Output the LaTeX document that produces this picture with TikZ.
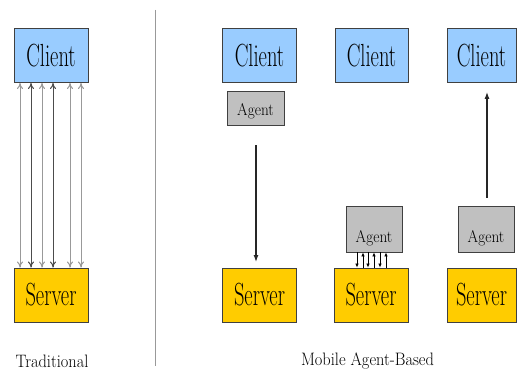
\documentclass[tikz,border=0pt]{standalone}
\usepackage{fontspec}
\usetikzlibrary{arrows.meta}
\definecolor{clientblue}{HTML}{99CCFF}
\definecolor{servergold}{HTML}{FFCC00}
\definecolor{agentgray}{HTML}{C0C0C0}
\definecolor{edgegray}{HTML}{404040}
\definecolor{linegray}{HTML}{999999}
\newcommand{\cnd}[1]{\scalebox{0.64}[1]{#1}}
\newcommand{\agt}[1]{\scalebox{0.9}[1]{#1}}
\newcommand{\lbl}[1]{\scalebox{0.91}[1]{#1}}
\tikzset{
  box/.style={draw=edgegray, line width=0.9pt, inner sep=0pt, minimum height=54pt, font=\rmfamily\fontsize{32}{32}\selectfont},
  clientbox/.style={box, fill=clientblue},
  serverbox/.style={box, fill=servergold},
  agentbox/.style={draw=edgegray, line width=0.9pt, fill=agentgray, inner sep=0pt, font=\rmfamily\fontsize{17}{17}\selectfont},
  trad/.style={{To[length=6pt,width=6pt]}-{To[length=6pt,width=6pt]}, line width=1pt, draw=linegray},
  tradd/.style={trad, draw=black!70},
  move/.style={-{Latex[length=7pt,width=5pt]}, line width=1.2pt, draw=black!85},
  small/.style={-{Latex[length=4pt,width=3.5pt]}, line width=0.7pt, draw=black},
  caption/.style={font=\rmfamily\fontsize{18}{18}\selectfont, inner sep=0pt}
}
\begin{document}
\begin{tikzpicture}[x=1pt,y=-1pt]
\useasboundingbox (0,0) rectangle (518,374);
% Traditional
\node[clientbox, minimum width=74pt] (c1) at (51,55.5) {\cnd{Client}};
\node[serverbox, minimum width=74pt] (s1) at (51,295) {\cnd{Server}};
\foreach \xx/\st in {20/trad,31/tradd,42/trad,53/tradd,70/trad,81/trad}{
  \draw[\st] (c1.south -| \xx,0) -- (s1.north -| \xx,0);
}
% divider
\coordinate (dtop) at (155,10);
\coordinate (dbot) at (155,366);
\draw[linegray, line width=1pt] (dtop) -- (dbot);
% Column 2
\node[clientbox, minimum width=74pt] (c2) at (259.5,55.5) {\cnd{Client}};
\node[agentbox, minimum width=57pt, minimum height=34pt] (a2) at (255.5,108) {\raisebox{-3pt}[\height][\depth]{\agt{Agent}}};
\node[serverbox, minimum width=74pt] (s2) at (259.5,295) {\cnd{Server}};
\coordinate (m2a) at (256,145);
\coordinate (m2b) at (256,262);
\draw[move] (m2a) -- (m2b);
% Column 3
\node[clientbox, minimum width=73pt] (c3) at (371.5,55.5) {\cnd{Client}};
\node[agentbox, minimum width=56pt, minimum height=46pt] (a3) at (374,229) {\raisebox{-9pt}[\height][\depth]{\agt{Agent}}};
\node[serverbox, minimum width=74pt] (s3) at (371,295) {\cnd{Server}};
\foreach \xx in {357,368,380}{
  \draw[small] (a3.south -| \xx,0) -- (s3.north -| \xx,0);
}
\foreach \xx in {363,374,386}{
  \draw[small] (s3.north -| \xx,0) -- (a3.south -| \xx,0);
}
% Column 4
\node[clientbox, minimum width=69pt] (c4) at (481.5,55.5) {\cnd{Client}};
\node[agentbox, minimum width=56pt, minimum height=46pt] (a4) at (486,229) {\raisebox{-9pt}[\height][\depth]{\agt{Agent}}};
\node[serverbox, minimum width=69pt] (s4) at (481.5,295) {\cnd{Server}};
\draw[move] ([yshift=8pt]a4.north -| 487,0) -- ([yshift=-9pt]c4.south -| 487,0);
% captions
\node[caption] (t1) at (52,361) {\lbl{Traditional}};
\node[caption] (t2) at (367.5,361) {\lbl{Mobile Agent-Based}};
\end{tikzpicture}
\end{document}
